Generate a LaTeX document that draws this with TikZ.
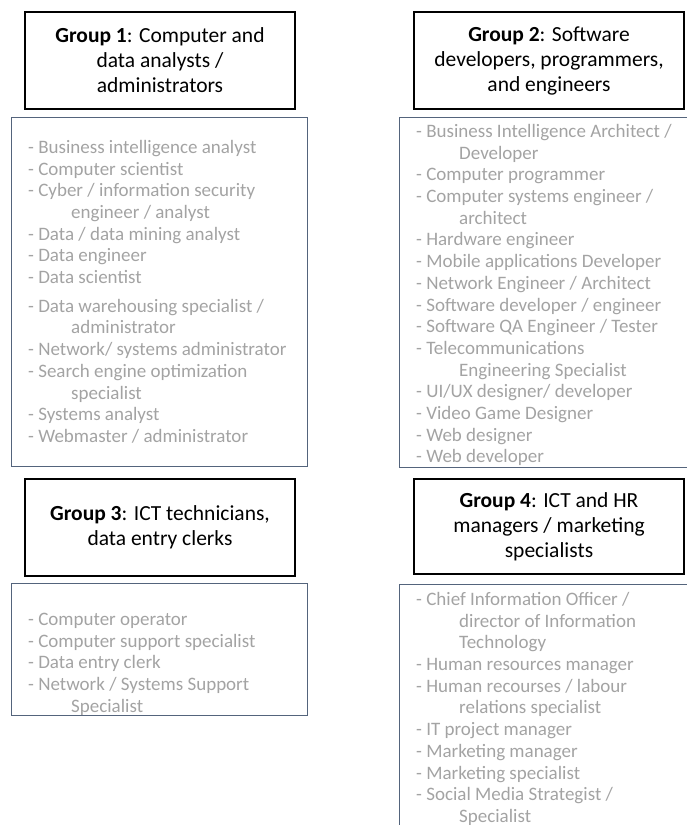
\documentclass[tikz,border=0pt]{standalone}
\usepackage{fontspec}
\setmainfont{Carlito}
\usetikzlibrary{positioning}
\definecolor{itemgray}{RGB}{163,163,163}
\definecolor{listline}{RGB}{84,100,124}
\tikzstyle{groupbox}=[draw, line width=2pt, minimum width=270pt, minimum height=97pt, inner sep=0pt, align=center, anchor=north west, font=\fontsize{21.5}{25}\selectfont]
\tikzstyle{listbox}=[draw=listline, line width=0.8pt, inner sep=0pt, anchor=north west]
\tikzstyle{items}=[inner sep=0pt, anchor=north west, align=left, text=itemgray, font=\fontsize{19}{21.7}\selectfont]
\newcommand{\cont}{\hspace*{43pt}}

\begin{document}
\begin{tikzpicture}[x=1pt, y=-1pt]
    \useasboundingbox (0,0) rectangle (686,825);
% Group headers
    \node[groupbox] (head1) at (24,11) {\textbf{Group 1}: Computer and\\data analysts /\\administrators};
    \node[groupbox] (head2) at (413,11) {\textbf{Group 2}: Software\\developers, programmers,\\and engineers};
    \node[groupbox] (head3) at (24,478) {\textbf{Group 3}: ICT technicians,\\data entry clerks};
    \node[groupbox, minimum height=95pt] (head4) at (413,478) {\textbf{Group 4}: ICT and HR\\managers / marketing\\specialists};
% Occupation frames
    \node[listbox, minimum width=296pt, minimum height=349pt] (list1) at (11,117) {};
    \node[listbox, minimum width=292pt, minimum height=350pt] (list2) at (399,117) {};
    \node[listbox, minimum width=296pt, minimum height=132pt] (list3) at (11,583) {};
    \node[listbox, minimum width=292pt, minimum height=250pt] (list4) at (399,584) {};
% Occupations
    \node[items] (items1) at (28,140) {- Business intelligence analyst\\
        - Computer scientist\\
        - Cyber / information security\\
        \cont engineer / analyst\\
        - Data / data mining analyst\\
        - Data engineer\\
        - Data scientist\\[7pt]
        - Data warehousing specialist /\\
        \cont administrator\\
        - Network/ systems administrator\\
        - Search engine optimization\\
        \cont specialist\\
        - Systems analyst\\
        - Webmaster / administrator};
    \node[items] (items2) at (416,124) {- Business Intelligence Architect /\\
        \cont Developer\\
        - Computer programmer\\
        - Computer systems engineer /\\
        \cont architect\\
        - Hardware engineer\\
        - Mobile applications Developer\\
        - Network Engineer / Architect\\
        - Software developer / engineer\\
        - Software QA Engineer / Tester\\
        - Telecommunications\\
        \cont Engineering Specialist\\
        - UI/UX designer/ developer\\
        - Video Game Designer\\
        - Web designer\\
        - Web developer};
    \node[items] (items3) at (28,613) {- Computer operator\\
        - Computer support specialist\\
        - Data entry clerk\\
        - Network / Systems Support\\
        \cont Specialist};
    \node[items] (items4) at (416,592) {- Chief Information Officer /\\
        \cont director of Information\\
        \cont Technology\\
        - Human resources manager\\
        - Human recourses / labour\\
        \cont relations specialist\\
        - IT project manager\\
        - Marketing manager\\
        - Marketing specialist\\
        - Social Media Strategist /\\
        \cont Specialist};
\end{tikzpicture}
\end{document}
